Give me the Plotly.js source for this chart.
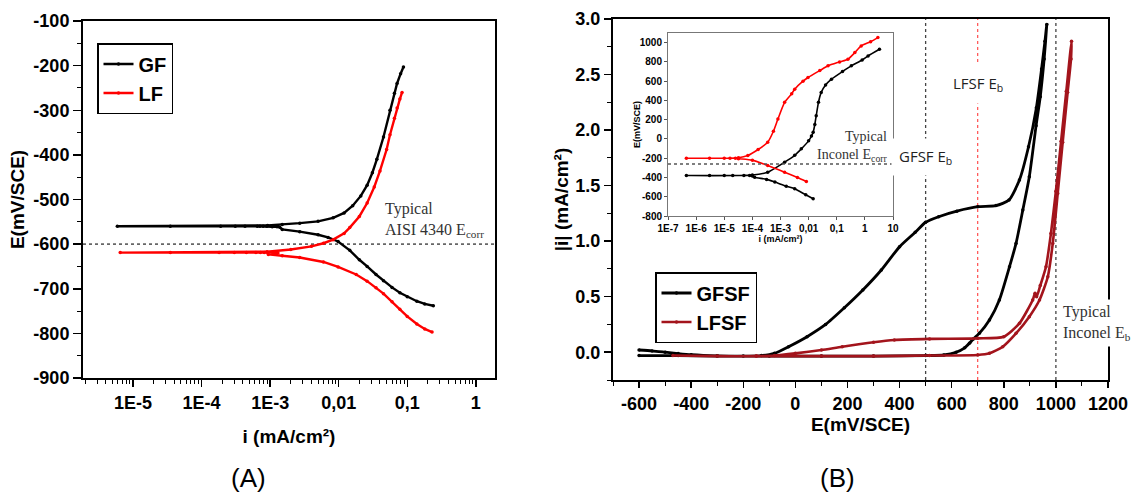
<!DOCTYPE html>
<html><head><meta charset="utf-8">
<script src="https://cdn.plot.ly/plotly-3.0.1.min.js"></script>
<style>html,body{margin:0;padding:0;background:#fff;}#chart{width:1147px;height:496px;}</style>
</head><body><div id="chart"></div>
<script>
// ---------- Panel A: Tafel curves (i in mA/cm2, E in mV/SCE) ----------
const gfI = [0.24,0.18,0.138,0.1,0.078,0.06,0.045,0.035,0.026,0.02,0.0145,0.0098,0.007,0.005,0.0027,0.0015,
  0.00138,0.00126,0.00107,0.00089,0.00079,0.00071,0.00065,0.00043,0.00031,0.00019,0.000035,0.0000059,
  0.00092,0.0015,0.0027,0.005,0.0083,0.012,0.016,0.021,0.026,0.031,0.036,0.045,0.056,0.065,0.071,0.08,0.088];
const gfE = [-738,-734,-728,-718,-709,-697,-682,-668,-650,-635,-614,-594,-585,-579,-572,-567,
  -562,-561,-561,-560,-560,-560,-560,-560,-560,-560,-560,-560,
  -558,-556,-553,-549,-541,-530,-514,-492,-468,-440,-410,-360,-300,-262,-240,-218,-203];
const lfI = [0.23,0.18,0.138,0.1,0.078,0.06,0.045,0.035,0.026,0.018,0.0098,0.006,0.0027,0.0015,0.00094,
  0.0013,0.0011,0.00092,0.00082,0.00072,0.00062,0.00045,0.0003,0.00018,0.000035,0.0000065,
  0.0009,0.002,0.004,0.006,0.0083,0.012,0.0145,0.02,0.026,0.033,0.04,0.05,0.056,0.065,0.071,0.078,0.084];
const lfE = [-797,-790,-779,-762,-746,-729,-711,-698,-683,-668,-651,-640,-630,-626,-623,
  -620,-619,-619,-619,-619,-619,-619,-619,-619,-619,-619,
  -617,-612,-605,-598,-590,-576,-563,-538,-508,-472,-436,-388,-355,-318,-295,-275,-260];
const aisiEcorr = -600;
const aTickVals = [1e-5,1e-4,1e-3,0.01,0.1,1];
const aTickText = ["1E-5","1E-4","1E-3","0,01","0,1","1"];
const aYTickVals = [-900,-800,-700,-600,-500,-400,-300,-200,-100];
const aMinorVals = [];
[1e-6,1e-5,1e-4,1e-3,1e-2,1e-1,1].forEach(d=>{for(let k=2;k<=9;k++){aMinorVals.push(d*k);}});

// ---------- Panel B: cyclic polarization (E in mV/SCE, |i| in mA/cm2) ----------
const gfsfE = [-600,-550,-500,-450,-400,-300,-200,-130,-80,-26,45,116,188,259,330,400,460,500,550,620,700,770,820,860,895,925,945,958,965,
  955,940,924,898,873,847,822,783,745,706,683,668,650,617,570,500,300,100,-100,-300,-450,-600];
const gfsfI = [0.02,0.012,0.0,-0.012,-0.022,-0.032,-0.035,-0.03,-0.01,0.05,0.14,0.25,0.40,0.56,0.74,0.95,1.08,1.17,1.22,1.27,1.31,1.32,1.37,1.55,1.85,2.2,2.55,2.8,2.95,
  2.64,2.3,2.04,1.58,1.28,0.98,0.77,0.47,0.29,0.17,0.12,0.08,0.04,0.0,-0.025,-0.03,-0.035,-0.035,-0.035,-0.035,-0.03,-0.03];
const lfsfE = [-470,-300,-150,-80,0,100,180,300,380,515,700,800,860,911,920,926,940,962,981,1000,1020,1040,1060,
  1058,1045,1026,1007,988,969,937,898,847,796,745,700,515,300,100,-150];
const lfsfI = [-0.03,-0.035,-0.035,-0.03,-0.01,0.02,0.05,0.09,0.11,0.12,0.125,0.14,0.26,0.47,0.53,0.5,0.6,0.77,1.07,1.45,1.9,2.35,2.8,
  2.64,2.34,1.89,1.43,0.98,0.68,0.47,0.32,0.17,0.05,-0.01,-0.025,-0.03,-0.035,-0.035,-0.035];
const gfsfEb = 500, lfsfEb = 700, inconelEb = 1000;
const bXTickVals = [-600,-400,-200,0,200,400,600,800,1000,1200];
const bYTickVals = [0,0.5,1,1.5,2,2.5,3];

// ---------- Inset of panel B: Tafel curves ----------
const inGfI = [0.0145,0.0079,0.0032,0.0016,0.00063,0.00032,0.00012,0.0001,
  0.00008,0.00005,0.00002,0.00001,0.000003,0.00000045,
  0.0001,0.00035,0.0014,0.0032,0.0055,0.01,0.0126,0.0145,0.0166,0.0186,0.0224,0.028,0.04,0.065,0.16,0.33,0.8,1.3,3.3];
const inGfE = [-621,-580,-517,-490,-448,-420,-397,-385,
  -380,-380,-380,-380,-380,-380,
  -375,-345,-241,-170,-103,-20,30,69,150,241,380,483,560,621,700,759,820,862,931];
const inLfI = [0.0083,0.004,0.0014,0.00035,0.0001,0.000032,
  0.000025,0.000016,0.00001,0.000003,0.00000045,
  0.000032,0.000069,0.00016,0.00035,0.00056,0.00081,0.0014,0.0025,0.0032,0.0063,0.0095,0.025,0.049,0.126,0.25,0.44,0.74,1.6,2.9];
const inLfE = [-441,-400,-345,-276,-220,-205,
  -200,-200,-200,-200,-200,
  -195,-172,-110,-34,80,207,380,470,517,600,638,710,759,800,828,897,966,1010,1052];
const inconelEcorr = -260;
const inTickVals = [1e-7,1e-6,1e-5,1e-4,1e-3,0.01,0.1,1,10];
const inTickText = ["1E-7","1E-6","1E-5","1E-4","1E-3","0,01","0,1","1","10"];
const inYTickVals = [-800,-600,-400,-200,0,200,400,600,800,1000];

const F = 'Arial, "Liberation Sans", sans-serif';
const SERIF = '"Times New Roman", "Liberation Serif", serif';
const W = 1147, H = 496;
const px = v => v / W, py = v => 1 - v / H;
const bold = arr => arr.map(s => '<b>' + s + '</b>');

const lineTrace = (x, y, name, color, xa, ya, legend, show, width, shape) => ({
  x, y, name, type: 'scatter', mode: 'lines+markers',
  line: {color, width: width, shape: shape || 'linear', smoothing: 0.6}, marker: {color, size: 3.5},
  xaxis: xa, yaxis: ya, legend: legend, showlegend: show, hoverinfo: 'skip'
});

const data = [
  lineTrace(gfI, gfE, 'GF', '#000000', 'x', 'y', 'legend', true, 2.4),
  lineTrace(lfI, lfE, 'LF', '#ff0000', 'x', 'y', 'legend', true, 2.4),
  lineTrace(gfsfE, gfsfI, 'GFSF', '#000000', 'x2', 'y2', 'legend2', true, 2.8, 'spline'),
  lineTrace(lfsfE, lfsfI, 'LFSF', '#a3141c', 'x2', 'y2', 'legend2', true, 2.6, 'spline'),
  lineTrace(inGfI, inGfE, 'GFSF inset', '#000000', 'x3', 'y3', 'legend', false, 1.6, 'spline'),
  lineTrace(inLfI, inLfE, 'LFSF inset', '#ff0000', 'x3', 'y3', 'legend', false, 1.6, 'spline')
];

const tickFont = {family: F, size: 18, color: '#000', weight: 'bold'};
const axBase = {showgrid: false, zeroline: false, showline: true, linecolor: '#000', linewidth: 2,
  mirror: true, ticks: 'outside', tickcolor: '#000', tickwidth: 1.5, automargin: false, tickfont: tickFont, tickmode: 'array'};
const titleFont = {family: F, size: 19, weight: 'bold', color: '#000'};

const layout = {
  width: W, height: H, margin: {l: 0, r: 0, t: 0, b: 0},
  paper_bgcolor: '#fff', plot_bgcolor: '#fff', showlegend: true,
  xaxis: Object.assign({}, axBase, {type: 'log', domain: [px(83), px(495)], range: [-5.73, 0.28],
    tickvals: aTickVals, ticktext: bold(aTickText), ticklen: 7, anchor: 'y',
    minor: {tickmode: 'array', tickvals: aMinorVals, ticks: 'outside', ticklen: 4, tickcolor: '#000', tickwidth: 1},
    title: {text: 'i (mA/cm²)', font: titleFont, standoff: 18}}),
  yaxis: Object.assign({}, axBase, {domain: [py(378), py(21)], range: [-900, -100],
    tickvals: aYTickVals, ticktext: bold(aYTickVals.map(String)), ticklen: 8, anchor: 'x',
    minor: {dtick: 50, tick0: 0, ticks: 'outside', ticklen: 4, tickcolor: '#000', tickwidth: 1},
    title: {text: 'E(mV/SCE)', font: titleFont, standoff: 4}}),
  xaxis2: Object.assign({}, axBase, {domain: [px(613), px(1108)], range: [-700, 1200],
    tickvals: bXTickVals, ticktext: bold(bXTickVals.map(String)), ticklen: 6, anchor: 'y2',
    minor: {dtick: 100, tick0: 0, ticks: 'outside', ticklen: 4, tickcolor: '#000', tickwidth: 1},
    title: {text: 'E(mV/SCE)', font: titleFont, standoff: 5}}),
  yaxis2: Object.assign({}, axBase, {domain: [py(380), py(19)], range: [-0.25, 3.0],
    tickvals: bYTickVals, ticktext: bold(bYTickVals.map(v => v.toFixed(1))), ticklen: 7, anchor: 'x2',
    minor: {dtick: 0.25, tick0: 0, ticks: 'outside', ticklen: 4, tickcolor: '#000', tickwidth: 1},
    title: {text: '|i| (mA/cm²)', font: titleFont, standoff: 2}}),
  xaxis3: {type: 'log', domain: [px(668), px(893)], range: [-7, 1], anchor: 'y3', showgrid: false, zeroline: false,
    showline: true, linecolor: '#777', linewidth: 1, mirror: true, ticks: 'outside', ticklen: 3, tickcolor: '#555',
    tickmode: 'array', tickvals: inTickVals, ticktext: bold(inTickText), automargin: false,
    tickfont: {family: F, size: 10, color: '#000', weight: 'bold'},
    title: {text: 'i (mA/cm²)', font: {family: F, size: 9, weight: 'bold', color: '#000'}, standoff: 2}},
  yaxis3: {domain: [py(216), py(33)], range: [-800, 1100], anchor: 'x3', showgrid: false, zeroline: false,
    showline: true, linecolor: '#777', linewidth: 1, mirror: true, ticks: 'outside', ticklen: 3, tickcolor: '#555', automargin: false,
    tickmode: 'array', tickvals: inYTickVals, ticktext: bold(inYTickVals.map(String)),
    tickfont: {family: F, size: 10, color: '#000', weight: 'bold'},
    title: {text: 'E(mV/SCE)', font: {family: F, size: 9, weight: 'bold', color: '#000'}}},
  legend: {x: px(97), y: py(43), xanchor: 'left', yanchor: 'top', bgcolor: '#fff', bordercolor: '#000', borderwidth: 1.5,
    font: {family: F, size: 20, weight: 'bold', color: '#000'}, itemwidth: 30, tracegroupgap: 0},
  legend2: {x: px(655), y: py(272), xanchor: 'left', yanchor: 'top', bgcolor: '#fff', bordercolor: '#000', borderwidth: 1.5,
    font: {family: F, size: 20, weight: 'bold', color: '#000'}, itemwidth: 30, tracegroupgap: 0},
  shapes: [
    {type: 'line', xref: 'x domain', yref: 'y', x0: 0, x1: 1, y0: aisiEcorr, y1: aisiEcorr,
      line: {color: '#666', width: 1.6, dash: 'dot'}, layer: 'below'},
    {type: 'line', xref: 'x2', yref: 'y2 domain', x0: gfsfEb, x1: gfsfEb, y0: 0, y1: 1,
      line: {color: '#444', width: 1.3, dash: 'dot'}, layer: 'below'},
    {type: 'line', xref: 'x2', yref: 'y2 domain', x0: lfsfEb, x1: lfsfEb, y0: 0, y1: 1,
      line: {color: '#ff2a2a', width: 1, dash: '3px,3px'}, layer: 'below'},
    {type: 'line', xref: 'x2', yref: 'y2 domain', x0: inconelEb, x1: inconelEb, y0: 0, y1: 1,
      line: {color: '#444', width: 1.3, dash: 'dot'}, layer: 'below'},
    {type: 'line', xref: 'x3 domain', yref: 'y3', x0: 0, x1: 1, y0: inconelEcorr, y1: inconelEcorr,
      line: {color: '#555', width: 1.5, dash: 'dot'}, layer: 'above'}
  ],
  annotations: [
    {xref: 'paper', yref: 'paper', x: px(383), y: py(220), xanchor: 'left', yanchor: 'middle', align: 'left', showarrow: false,
      text: 'Typical<br>AISI 4340 E<sub>corr</sub>', font: {family: SERIF, size: 16, color: '#333'}},
    {xref: 'paper', yref: 'paper', x: px(890), y: py(146), xanchor: 'right', yanchor: 'middle', align: 'right', showarrow: false,
      text: 'Typical<br>Inconel E<sub>corr</sub>', font: {family: SERIF, size: 14, color: '#333'}},
    {xref: 'x2', yref: 'paper', x: gfsfEb, y: py(157), xanchor: 'center', yanchor: 'middle', showarrow: false,
      text: 'GFSF E<sub>b</sub>', bgcolor: '#fff', borderpad: 7, font: {family: '"Open Sans", "Noto Sans", sans-serif', size: 15, color: '#222'}},
    {xref: 'x2', yref: 'paper', x: lfsfEb, y: py(84), xanchor: 'center', yanchor: 'middle', showarrow: false,
      text: 'LFSF E<sub>b</sub>', bgcolor: '#fff', borderpad: 8, font: {family: '"Open Sans", "Noto Sans", sans-serif', size: 15, color: '#222'}},
    {xref: 'paper', yref: 'paper', x: px(1059), y: py(323), xanchor: 'left', yanchor: 'middle', align: 'left', showarrow: false,
      text: 'Typical<br>Inconel E<sub>b</sub>', bgcolor: '#fff', borderpad: 3, font: {family: SERIF, size: 16, color: '#333'}},
    {xref: 'paper', yref: 'paper', x: px(248), y: py(478), xanchor: 'center', yanchor: 'middle', showarrow: false,
      text: '(A)', font: {family: F, size: 26, color: '#000'}},
    {xref: 'paper', yref: 'paper', x: px(837), y: py(478), xanchor: 'center', yanchor: 'middle', showarrow: false,
      text: '(B)', font: {family: F, size: 26, color: '#000'}}
  ]
};

Plotly.newPlot('chart', data, layout, {displayModeBar: false, staticPlot: true});
</script>
</body></html>
